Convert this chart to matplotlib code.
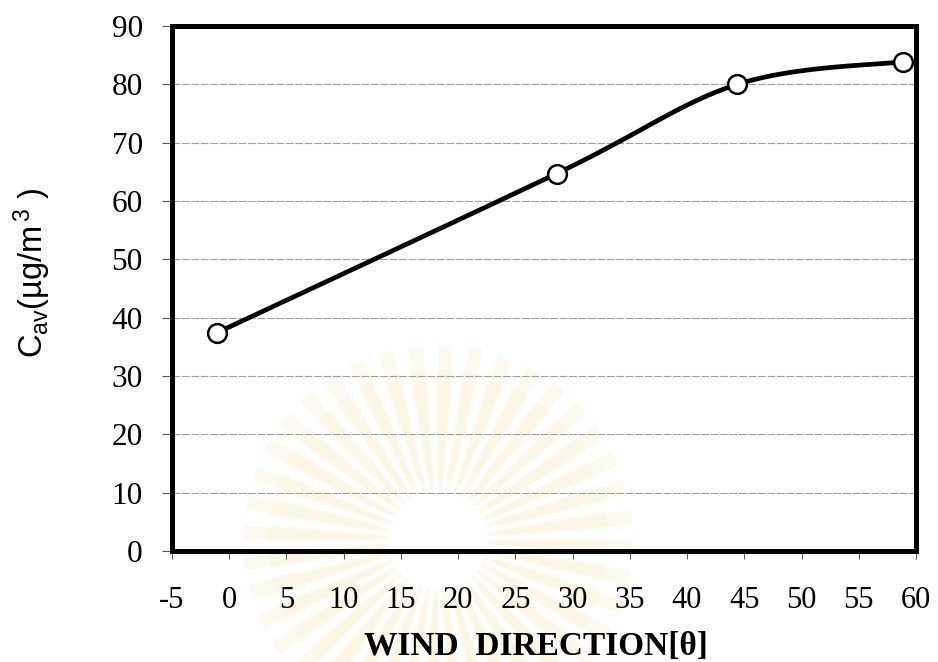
import numpy as np
import matplotlib.pyplot as plt
from matplotlib.patches import Wedge

# wind direction (deg) vs average concentration
wind_dir = [-1.1, 28.6, 44.4, 58.9]
c_av = [37.4, 64.7, 80.0, 83.9]

x_ticks = list(range(-5, 61, 5))
y_ticks = list(range(0, 91, 10))

plt.rcParams['axes.unicode_minus'] = False
plt.rcParams['mathtext.default'] = 'regular'


def courbe_lissee(xs, ys, n=40):
    # lissage type tableur : segments de Bezier cubiques (tension 1/6)
    pts = np.column_stack([xs, ys]).astype(float)
    m = len(pts)
    out = []
    for i in range(m - 1):
        p0 = pts[i]
        p3 = pts[i + 1]
        prev = pts[i - 1] if i > 0 else pts[i]
        nxt = pts[i + 2] if i + 2 < m else pts[i + 1]
        p1 = p0 + (p3 - prev) / 6.0
        p2 = p3 - (nxt - p0) / 6.0
        t = np.linspace(0, 1, n)[:, None]
        seg = ((1 - t) ** 3) * p0 + 3 * ((1 - t) ** 2) * t * p1 \
            + 3 * (1 - t) * t ** 2 * p2 + t ** 3 * p3
        out.append(seg if i == 0 else seg[1:])
    out = np.vstack(out)
    return out[:, 0], out[:, 1]


fig = plt.figure(figsize=(9.38, 6.62), dpi=100)
fig.patch.set_facecolor('white')

# filigrane pale en fond
fond = fig.add_axes([0, 0, 1, 1], zorder=-5)
fond.set_xlim(0, 938)
fond.set_ylim(662, 0)
fond.axis('off')
for k in range(40):
    a = k * 9
    fond.add_patch(Wedge((438, 540), 195, a, a + 4.5, width=145,
                         facecolor='#f7e2a6', edgecolor='none', alpha=0.18))
    fond.add_patch(Wedge((438, 540), 170, a - 1, a + 5.5, width=110,
                         facecolor='#f9ebc4', edgecolor='none', alpha=0.18))

ax = fig.add_axes([0.1834, 0.1677, 0.7931, 0.7930])
ax.patch.set_alpha(0)

ax.set_xlim(-5, 60)
ax.set_ylim(0, 90)
ax.set_xticks(x_ticks)
ax.set_yticks(y_ticks)

ax.grid(axis='y', color='#a0a0a0', linewidth=0.8, linestyle=(0, (7, 1.5)))
ax.set_axisbelow(True)

xs, ys = courbe_lissee(wind_dir, c_av)
ax.plot(xs, ys, color='black', linewidth=3.4, solid_capstyle='round', zorder=3)
ax.plot(wind_dir, c_av, linestyle='none', marker='o', markersize=13.5,
        markerfacecolor='white', markeredgecolor='black', markeredgewidth=1.8,
        zorder=4, clip_on=False)

for s in ax.spines.values():
    s.set_linewidth(3.6)
    s.set_color('black')

ax.tick_params(axis='y', direction='out', length=7, width=0.8, color='#555555',
               pad=14, labelsize=22.5)
ax.tick_params(axis='x', direction='out', length=6, width=0.8, color='#555555',
               pad=19, labelsize=22)
for lab in ax.get_xticklabels() + ax.get_yticklabels():
    lab.set_family('Liberation Serif')

ax.set_xlabel('WIND  DIRECTION[θ]', family='Liberation Serif', fontweight='bold',
              fontsize=24)
ax.xaxis.set_label_coords(0.489, -0.152)
ax.set_ylabel(r'C$_{av}$(µg/m$^{\,3}$ )', family='Liberation Sans', fontsize=23.5)
ax.yaxis.set_label_coords(-0.16, 0.53)

fig.savefig('out.png', dpi=100)
